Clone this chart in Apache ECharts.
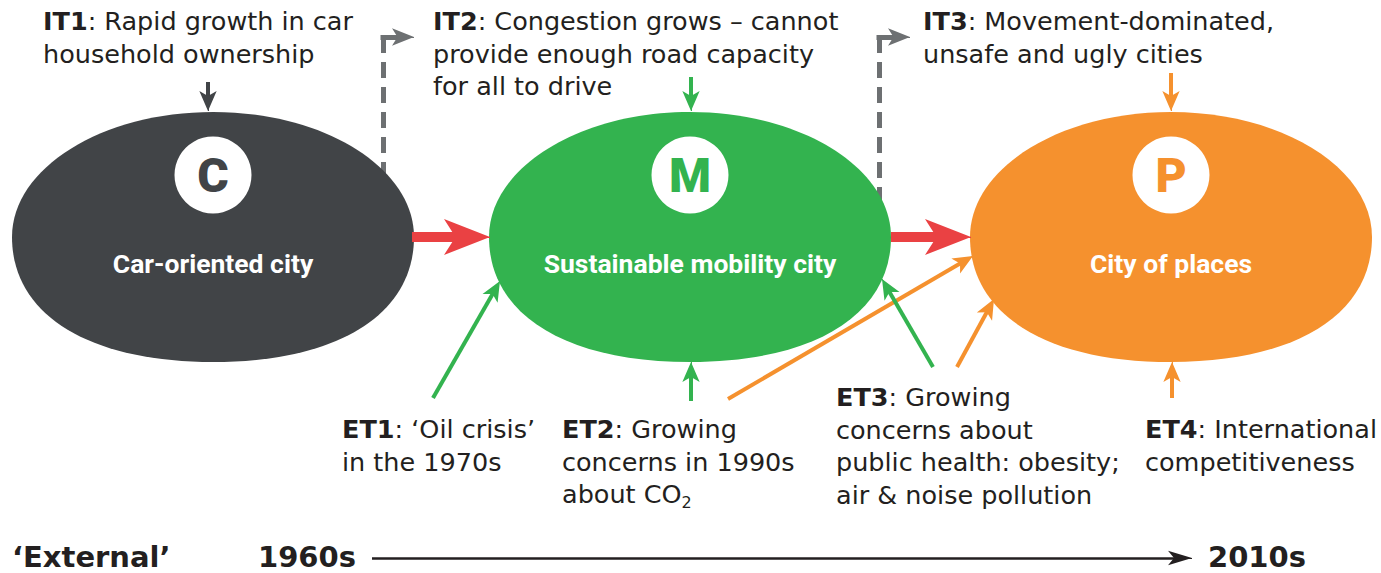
<!DOCTYPE html>
<html lang="en">
<head>
<meta charset="UTF-8">
<title>From car-oriented city to city of places</title>
<style>
  html, body { margin: 0; padding: 0; background: #fff; }
  #main { width: 1381px; height: 573px; }
</style>
<script src="https://cdn.jsdelivr.net/npm/echarts@6/dist/echarts.min.js"></script>
</head>
<body>
<div id="main"></div>
<script>
// the three city types
var cityNames = ['Car-oriented city', 'Sustainable mobility city', 'City of places'];
var cityLetters = ['C', 'M', 'P'];
// internal triggers (top row)
var internalTags = ['IT1', 'IT2', 'IT3'];
var internalTexts = [
  'Rapid growth in car\nhousehold ownership',
  'Congestion grows \u2013 cannot\nprovide enough road capacity\nfor all to drive',
  'Movement-dominated,\nunsafe and ugly cities'
];
// external triggers (bottom row)
var externalTags = ['ET1', 'ET2', 'ET3', 'ET4'];
var externalTexts = [
  '\u2018Oil crisis\u2019\nin the 1970s',
  'Growing\nconcerns in 1990s\nabout CO2',
  'Growing\nconcerns about\npublic health: obesity;\nair & noise pollution',
  'International\ncompetitiveness'
];
// time axis
var timeLabels = ['\u2018External\u2019', '1960s', '2010s'];

// ---- layout (pixel space of the hidden axes) ----
var cityAt = [[213, 237], [690, 237], [1171, 237]];
var internalAt = [[43, 5], [433, 5], [923, 5]];
var externalAt = [[342, 413], [562, 413], [836, 381], [1145, 413]];
var timeAt = [[12, 557], [258, 557], [1208, 557]];
// thin arrows: [from, tip, colour]
var thinArrows = [
  [[208, 82], [208, 111], 'dark'],
  [[691, 77], [691, 111], 'green'],
  [[1171, 73], [1171, 111], 'orange'],
  [[433, 398], [500, 281], 'green'],
  [[691, 401], [691, 362], 'green'],
  [[728, 399], [973, 256], 'orange'],
  [[933, 367], [882, 279], 'green'],
  [[957, 367], [994, 299], 'orange'],
  [[1172, 398], [1172, 362], 'orange']
];
var bigArrows = [[[412, 237], [490, 237]], [[891, 237], [971, 237]]];
// dashed feedback: top corner, bottom end, arrow tip
var feedback = [[[383, 37], [383, 190], [414, 37]], [[879, 37], [879, 200], [910, 37]]];
var timeline = [[372, 558], [1192, 558]];

var colours = {
  dark: '#414447', green: '#33b34f', orange: '#f5912e',
  red: '#ea4143', grey: '#6d7072', ink: '#231f20'
};
var cityColours = [colours.dark, colours.green, colours.orange];
var bodyFont = 'DejaVu Sans';
var ovalPath = 'path://M0,50 C0,22.4 22.4,0 50,0 C77.6,0 100,22.4 100,50 C100,81 81,100 50,100 C19,100 0,81 0,50 Z';

// point on the way back from the tip
function backOff(from, tip, dist) {
  var dx = tip[0] - from[0], dy = tip[1] - from[1];
  var d = Math.sqrt(dx * dx + dy * dy);
  return [tip[0] - dx / d * dist, tip[1] - dy / d * dist];
}

// each arrow = shaft (stops inside the head) + head on a tiny segment
function arrowSeries(items, width, head, z) {
  var cut = head[1] * 0.6;
  return [
    {
      type: 'lines', coordinateSystem: 'cartesian2d', z: z, silent: true,
      lineStyle: { width: width, opacity: 1, cap: 'butt' },
      data: items.map(function (a) {
        return { coords: [a[0], backOff(a[0], a[1], cut)], lineStyle: { color: a[2] } };
      })
    },
    {
      type: 'lines', coordinateSystem: 'cartesian2d', z: z, silent: true,
      symbol: ['none', 'arrow'],
      symbolSize: [1, head],
      lineStyle: { width: 1, opacity: 1 },
      data: items.map(function (a) {
        return { coords: [backOff(a[0], a[1], cut), a[1]], lineStyle: { color: a[2] } };
      })
    }
  ];
}

function notes(tags, texts, at) {
  return {
    type: 'scatter', symbolSize: 0, z: 8, silent: true,
    itemStyle: { opacity: 1 },
    data: tags.map(function (t, i) {
      return { name: t, value: at[i], note: texts[i] };
    }),
    label: {
      show: true, position: [0, 0], align: 'left', verticalAlign: 'top',
      fontFamily: bodyFont, fontSize: 25.5, lineHeight: 32.5, color: colours.ink,
      formatter: function (p) {
        return '{tag|' + p.name + '}: ' + p.data.note.replace('CO2', 'CO{sub|2}');
      },
      rich: {
        tag: { fontFamily: bodyFont, fontWeight: 'bold', fontSize: 25.5, lineHeight: 32.5, color: colours.ink },
        sub: { fontFamily: bodyFont, fontSize: 16, lineHeight: 26, verticalAlign: 'bottom', color: colours.ink }
      }
    }
  };
}

var mChart = echarts.init(document.getElementById('main'), null, { renderer: 'svg' });

var series = [
  // dashed feedback lines (behind the ovals)
  {
    type: 'lines', coordinateSystem: 'cartesian2d', z: 1, silent: true,
    lineStyle: { color: colours.grey, width: 5, type: [16, 9], opacity: 1 },
    data: feedback.map(function (f) { return { coords: [f[0], f[1]] }; })
  },
  // ovals
  {
    type: 'scatter', z: 2, silent: true,
    symbol: ovalPath, symbolSize: [402, 250],
    itemStyle: { opacity: 1 },
    data: cityNames.map(function (n, i) {
      return { name: n, value: cityAt[i], itemStyle: { color: cityColours[i] } };
    }),
    label: {
      show: true, position: 'inside', offset: [0, 26], formatter: '{b}',
      color: '#ffffff', fontFamily: 'Roboto', fontWeight: 'bold', fontSize: 26.5
    }
  },
  // white discs with the letters
  {
    type: 'scatter', z: 3, silent: true,
    symbol: 'circle', symbolSize: 77,
    itemStyle: { color: '#ffffff', opacity: 1 },
    data: cityLetters.map(function (l, i) {
      return { name: l, value: [cityAt[i][0], cityAt[i][1] - 62], label: { color: cityColours[i] } };
    }),
    label: {
      show: true, position: 'inside', formatter: '{b}',
      fontFamily: 'Roboto', fontWeight: 900, fontSize: 48
    }
  }
];

series = series.concat(
  arrowSeries(feedback.map(function (f) {
    return [[f[0][0] - 2.5, f[0][1]], f[2], colours.grey];
  }), 5, [13, 22], 1),
  // transitions between city types
  arrowSeries(bigArrows.map(function (a) { return [a[0], a[1], colours.red]; }), 10, [27, 46], 4),
  // trigger arrows
  arrowSeries(thinArrows.map(function (a) { return [a[0], a[1], colours[a[2]]]; }), 4, [13, 20], 5),
  // time line
  arrowSeries([[timeline[0], timeline[1], colours.ink]], 2.5, [11, 24], 5),
  [
    notes(internalTags, internalTexts, internalAt),
    notes(externalTags, externalTexts, externalAt),
    {
      type: 'scatter', symbolSize: 0, z: 8, silent: true,
      itemStyle: { opacity: 1 },
      data: timeLabels.map(function (t, i) { return { name: t, value: timeAt[i] }; }),
      label: {
        show: true, position: [0, 0], align: 'left', verticalAlign: 'middle',
        formatter: '{b}', color: colours.ink, lineHeight: 24,
        fontFamily: bodyFont, fontWeight: 'bold', fontSize: 29
      }
    }
  ]
);

var option = {
  animation: false,
  backgroundColor: '#ffffff',
  grid: { left: 0, right: 0, top: 0, bottom: 0 },
  xAxis: { type: 'value', min: 0, max: 1381, show: false },
  yAxis: { type: 'value', min: 0, max: 573, inverse: true, show: false },
  series: series
};

mChart.setOption(option);
</script>
</body>
</html>
